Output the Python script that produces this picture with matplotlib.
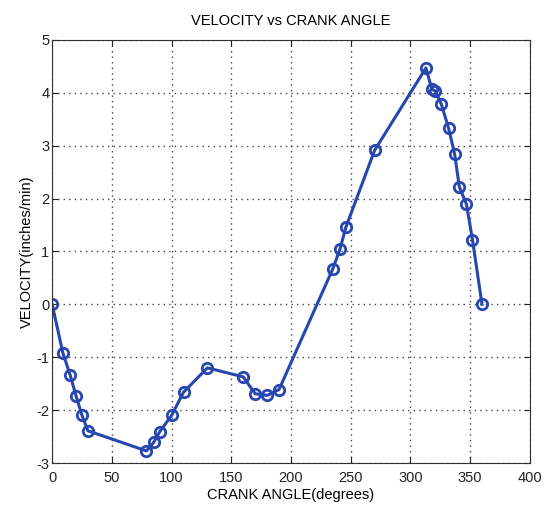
import matplotlib
matplotlib.use("Agg")
import matplotlib.pyplot as plt

# crank angle (degrees) and slider velocity (inches/min)
crank_angle = [0, 9, 15, 20, 25, 30, 79, 85, 90, 100, 110, 130, 160, 170, 180, 190,
               235, 241, 246, 270, 313, 318, 321, 326, 332, 337, 341, 347, 352, 360]
velocity = [0, -0.92, -1.33, -1.73, -2.10, -2.39, -2.77, -2.61, -2.41, -2.10, -1.66,
            -1.20, -1.37, -1.69, -1.72, -1.61, 0.67, 1.04, 1.46, 2.91, 4.47, 4.07,
            4.03, 3.78, 3.33, 2.85, 2.22, 1.89, 1.22, 0]

x_ticks = [0, 50, 100, 150, 200, 250, 300, 350, 400]
y_ticks = [-3, -2, -1, 0, 1, 2, 3, 4, 5]

plt.rcParams['font.family'] = ['Liberation Sans', 'DejaVu Sans']
plt.rcParams['font.size'] = 10.5
plt.rcParams['axes.unicode_minus'] = False

fig = plt.figure(figsize=(5.49, 5.05), dpi=100)
ax = fig.add_axes([0.095, 0.083, 0.87, 0.838])

ax.plot(crank_angle, velocity, color='#2746b0', linewidth=2.2, marker='o',
        markersize=7.5, markerfacecolor='none', markeredgewidth=2.0,
        markeredgecolor='#2746b0')

ax.set_xlim(0, 400)
ax.set_ylim(-3, 5)
ax.set_xticks(x_ticks)
ax.set_yticks(y_ticks)
ax.tick_params(direction='in', top=True, right=True, length=4, pad=2, colors='#222222')
ax.tick_params(axis='x', pad=6)
ax.grid(True, color='#444444', linestyle=(0, (1, 3)), linewidth=1.0)
for s in ax.spines.values():
    s.set_color('#333333')

ax.set_title("VELOCITY vs CRANK ANGLE", fontsize=10.5, pad=11)
ax.set_xlabel("CRANK ANGLE(degrees)", labelpad=2)
ax.set_ylabel("VELOCITY(inches/min)", labelpad=2)

fig.savefig("out.png", dpi=100)
